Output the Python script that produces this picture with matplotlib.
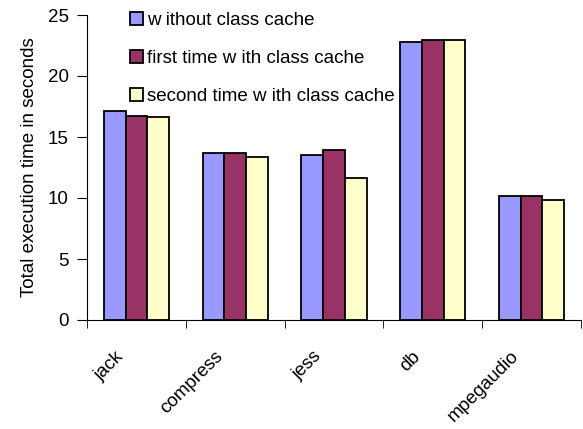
import numpy as np
import matplotlib.pyplot as plt
import matplotlib.transforms as mtransforms

plt.rcParams["font.family"] = ["Liberation Sans", "DejaVu Sans"]

# benchmark names and timings (seconds)
benchmarks = ["jack", "compress", "jess", "db", "mpegaudio"]
without_cache = [17.1, 13.65, 13.5, 22.8, 10.2]
first_with_cache = [16.75, 13.65, 13.9, 22.95, 10.2]
second_with_cache = [16.6, 13.4, 11.65, 22.95, 9.8]
series_labels = ["w ithout class cache", "first time w ith class cache",
                 "second time w ith class cache"]
series_colors = ["#9999FF", "#993366", "#FFFFCC"]

fig = plt.figure(figsize=(5.83, 4.29), dpi=100)
ax = fig.add_axes([87 / 583, 109 / 429, 494 / 583, 305 / 429])

x = np.arange(len(benchmarks))
w = 0.22
for i, (vals, lab, col) in enumerate(zip([without_cache, first_with_cache, second_with_cache],
                                         series_labels, series_colors)):
    ax.bar(x + (i - 1) * w, vals, w, color=col, edgecolor="black", linewidth=1.3, label=lab, zorder=3)

ax.set_xlim(-0.5, len(benchmarks) - 0.5)
ax.set_ylim(0, 25)
ax.set_yticks([0, 5, 10, 15, 20, 25])
ax.tick_params(axis="y", labelsize=13.5, length=7, direction="out", pad=6)

ax.set_xticks(x)
ax.set_xticklabels(benchmarks, rotation=45, ha="right", va="center",
                   rotation_mode="anchor", fontsize=13.5)
ax.tick_params(axis="x", which="major", length=0, pad=0)
ax.set_xticks(np.arange(len(benchmarks) + 1) - 0.5, minor=True)
ax.tick_params(axis="x", which="minor", length=6, direction="out")
# shift rotated labels so their ends sit left of/below the category centre (pixels)
shift = mtransforms.ScaledTranslation(-15 / 100, -34 / 100, fig.dpi_scale_trans)
for lbl in ax.get_xticklabels():
    lbl.set_transform(lbl.get_transform() + shift)

for s in ["top", "right"]:
    ax.spines[s].set_visible(False)

ax.set_ylabel("Total execution time in seconds", fontsize=13.5, labelpad=7)

leg = ax.legend(loc="upper left", bbox_to_anchor=(122 / 583, 0.99), bbox_transform=fig.transFigure,
                frameon=False, fontsize=13.5, handlelength=0.7, handleheight=0.7,
                handletextpad=0.25, labelspacing=1.12, borderaxespad=0)

fig.savefig("out.png", dpi=100)
